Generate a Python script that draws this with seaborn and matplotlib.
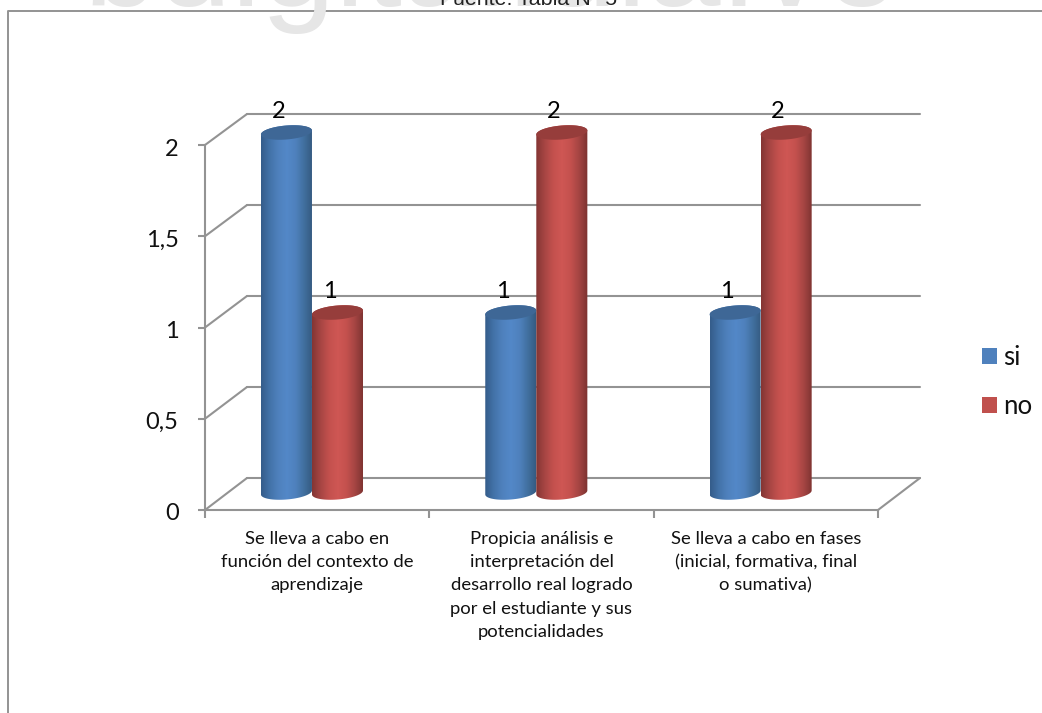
import numpy as np
import pandas as pd
import matplotlib
matplotlib.use("Agg")
import matplotlib.pyplot as plt
from matplotlib.colors import LinearSegmentedColormap
from matplotlib.lines import Line2D
from matplotlib.patches import ConnectionPatch, PathPatch, Polygon, Rectangle
from matplotlib.path import Path
from matplotlib.transforms import ScaledTranslation
import seaborn as sns

categories = [
    "Se lleva a cabo en\nfunción del contexto de\naprendizaje",
    "Propicia análisis e\ninterpretación del\ndesarrollo real logrado\npor el estudiante y sus\npotencialidades",
    "Se lleva a cabo en fases\n(inicial, formativa, final\no sumativa)",
]
si_values = [2, 1, 1]
no_values = [1, 2, 2]
series_names = ["si", "no"]
value_ticks = [0, 0.5, 1, 1.5, 2]
value_tick_labels = ["0", "0,5", "1", "1,5", "2"]

W, H = 1042, 713
GREY = "#939393"
FONT = "Lato"
LINE = 1.5

sns.set_theme(style="white")
plt.rcParams["font.family"] = [FONT, "DejaVu Sans"]

fig = plt.figure(figsize=(W / 100, H / 100), dpi=100, facecolor="white")


def axes_px(left, right, top, bottom, **kwargs):
    """Axes placed by its pixel edges, measured from the top left of the figure."""
    return fig.add_axes(
        [left / W, 1 - bottom / H, (right - left) / W, (bottom - top) / H], **kwargs
    )


# Page furniture behind the chart: watermark, source line, chart frame
fig.text(0.471, 1 - 6 / H, "bdigital.ula.ve", ha="center", va="baseline",
         fontsize=96, color="#e6e6e6", family="Liberation Sans")
fig.text(529 / W, 1 - 5 / H, "Fuente: Tabla N° 5", ha="center", va="baseline",
         fontsize=15.4, color="#222222", family="Liberation Sans")
fig.add_artist(Line2D([8 / W, 8 / W, 1], [0, 1 - 10.5 / H, 1 - 10.5 / H],
                      color=GREY, lw=1.4, transform=fig.transFigure))

# Back wall of the chart box, carrying the gridlines
ax_back = axes_px(247, 920, 114, 478)
ax_back.set(xlim=(-0.5, 2.5), ylim=(0, 2), xticks=[], yticks=value_ticks)
ax_back.patch.set_alpha(0)
ax_back.grid(axis="y", color=GREY, lw=LINE, clip_on=False)
ax_back.tick_params(left=False, labelleft=False)
sns.despine(ax=ax_back, left=True, bottom=True)

# Front plane, carrying both axes and their labels
ax_front = axes_px(205, 878, 145, 510)
ax_front.set(xlim=(-0.5, 2.5), ylim=(0, 2))
ax_front.patch.set_alpha(0)
sns.despine(ax=ax_front)
for side in ("left", "bottom"):
    ax_front.spines[side].set_color(GREY)
    ax_front.spines[side].set_linewidth(LINE)
ax_front.set_yticks(value_ticks, value_tick_labels, fontsize=17, color="#111111")
ax_front.tick_params(axis="y", left=True, length=5, width=LINE, color=GREY, pad=14)
for label in ax_front.get_yticklabels():
    label.set_transform(label.get_transform()
                        + ScaledTranslation(0, -2 / 100, fig.dpi_scale_trans))
ax_front.set_xticks(range(len(categories)), categories, fontsize=13.3, color="#111111",
                    linespacing=1.56)
ax_front.set_xticks([-0.5, 0.5, 1.5, 2.5], minor=True)
ax_front.tick_params(axis="x", which="major", bottom=False, pad=9)
ax_front.tick_params(axis="x", which="minor", bottom=True, length=6, width=LINE, color=GREY)

# Depth edges joining the front plane to the back wall
for v in value_ticks:
    fig.add_artist(ConnectionPatch((-0.5, v), (-0.5, v), "data", "data",
                                   axesA=ax_front, axesB=ax_back, color=GREY, lw=LINE))
fig.add_artist(ConnectionPatch((2.5, 0), (2.5, 0), "data", "data",
                               axesA=ax_front, axesB=ax_back, color=GREY, lw=LINE))

# Cylinders, standing between the front plane and the back wall.
# The axes reach 0.1 past the value range so the rounded ends are not clipped.
ax = axes_px(199.8, 872.8, 114.5, 510.5)
ax.patch.set_alpha(0)
ax.axis("off")

table = pd.DataFrame({
    "categoria": categories * 2,
    "serie": [series_names[0]] * 3 + [series_names[1]] * 3,
    "valor": si_values + no_values,
})
palette = {"si": "#4f81bd", "no": "#c0504d"}
sns.barplot(data=table, x="categoria", y="valor", hue="serie", hue_order=series_names,
            palette=palette, width=0.455, gap=0, dodge=True, legend=False, ax=ax,
            err_kws={"linewidth": 0})

ramps = {
    "si": LinearSegmentedColormap.from_list(
        "si", ["#355d8b", "#4373a9", "#4f81bd", "#5388c8", "#4f81bd", "#41709f", "#34597f"]),
    "no": LinearSegmentedColormap.from_list(
        "no", ["#843533", "#a84644", "#c4514e", "#cf5754", "#c4514e", "#a54543", "#7c3230"]),
}
lids = {"si": "#3e6796", "no": "#963d3b"}
ramp_values = np.linspace(0, 1, 64).reshape(1, -1)
SEMI_Y, TILT = 7 / 180, 2 / 180

bars = [b for b in ax.patches if isinstance(b, Rectangle)]
bar_series = [series_names[0]] * 3 + [series_names[1]] * 3

# Each flat bar is replaced by a shaded cylinder of the same position and height;
# the second series is painted above the first so it overlaps it
for bar, name in zip(bars, bar_series):
    bar.set_visible(False)
    x0, width, top = bar.get_x(), bar.get_width(), bar.get_height()
    cx, a = x0 + width / 2, width / 2
    t_low = np.linspace(np.pi, 2 * np.pi, 40)
    t_up = np.linspace(0, np.pi, 40)
    low = np.column_stack([cx + a * np.cos(t_low),
                           SEMI_Y * np.sin(t_low) + TILT * np.cos(t_low)])
    up = np.column_stack([cx + a * np.cos(t_up),
                          top + SEMI_Y * np.sin(t_up) + TILT * np.cos(t_up)])
    body = np.vstack([low, up])
    z = 3 if name == "si" else 4
    image = ax.imshow(ramp_values, cmap=ramps[name], aspect="auto", zorder=z,
                      extent=(x0, x0 + width, -0.1, top + 0.1), interpolation="bicubic")
    clip = PathPatch(Path(np.vstack([body, body[:1]]), closed=True), transform=ax.transData)
    image.set_clip_path(clip)
    t = np.linspace(0, 2 * np.pi, 80)
    lid = np.column_stack([cx + a * np.cos(t),
                           top + SEMI_Y * np.sin(t) + TILT * np.cos(t)])
    ax.add_patch(Polygon(lid, closed=True, facecolor=lids[name], edgecolor="none", zorder=z + 0.5))
    ax.annotate(f"{top:.0f}", (cx, top), xytext=(-8, 21), textcoords="offset pixels",
                ha="center", va="center", fontsize=17, color="black", zorder=6,
                annotation_clip=False)
ax.set(xlim=(-0.5, 2.5), ylim=(-0.1, 2.1))

# Legend on the right of the plot
handles = [Rectangle((0, 0), 1, 1, facecolor=palette[n], edgecolor="none") for n in series_names]
fig.legend(handles, series_names, loc="center left", frameon=False, fontsize=18.5,
           bbox_to_anchor=(982 / W, 1 - 382 / H), handlelength=0.58, handleheight=0.58,
           handletextpad=0.23, labelspacing=0.96, borderpad=0, borderaxespad=0,
           labelcolor="#111111")

fig.savefig("out.png", dpi=100)
